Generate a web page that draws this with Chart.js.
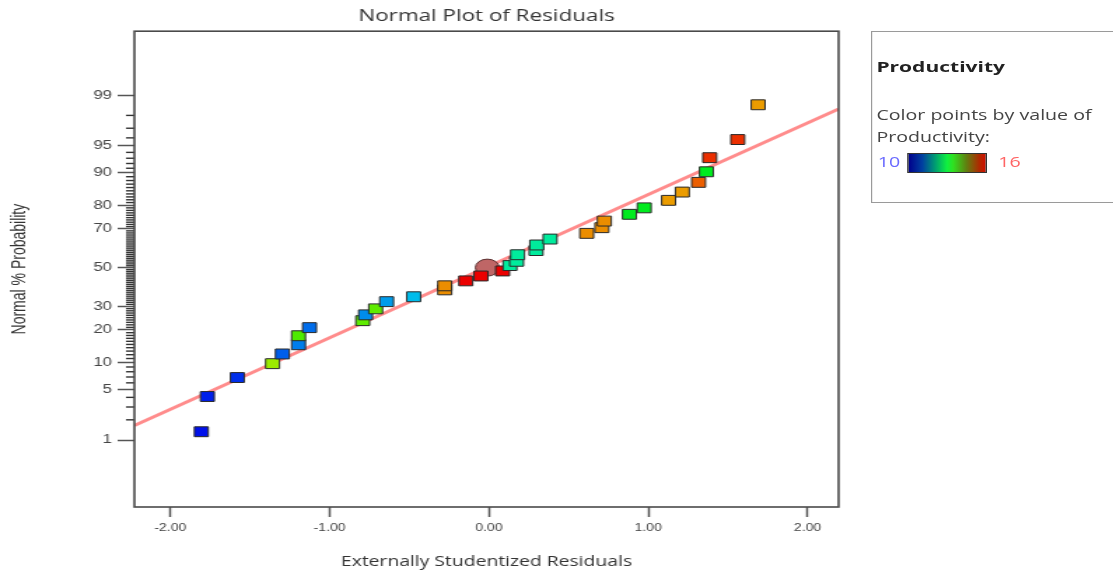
<!DOCTYPE html>
<html>
<head>
	<meta charset="utf-8">
	<title>Normal Plot of Residuals</title>
	<script src="https://cdn.jsdelivr.net/npm/chart.js@4.4.1/dist/chart.umd.min.js"></script>
	<style>
		html, body { margin: 0; padding: 0; background: #fff; overflow: hidden; }
		/* the original picture is stretched sideways, so the whole page is drawn narrow and scaled */
		#stage { position: absolute; left: 0; top: 0; width: 795px; height: 575px; transform: scaleX(1.4); transform-origin: 0 0; }
		#mychart { position: absolute; left: 0; top: 0; width: 795px; height: 575px; }
		#legend { position: absolute; left: 622px; top: 31px; width: 230px; height: 170px; border: 1px solid #9a9a9a; font-family: 'Open Sans', sans-serif; color: #444; }
		#legend div { position: absolute; white-space: nowrap; line-height: 20px; }
		#lgTitle { left: 3px; top: 24px; font-size: 15px; font-weight: bold; color: #222; }
		#lgLine1 { left: 3px; top: 73px; font-size: 14px; }
		#lgLine2 { left: 3px; top: 95px; font-size: 14px; }
		#lgLow { left: 4px; top: 120px; font-size: 14px; color: #6a6aff; }
		#lgHigh { left: 90px; top: 120px; font-size: 14px; color: #ff6464; }
		#lgBar { left: 25px; top: 121px; width: 55px; height: 18px; border: 1px solid #333;
			background: linear-gradient(to right, #00008c 0%, #0040a0 18%, #00a070 35%, #10f040 50%, #30e020 58%, #608010 75%, #b02800 92%, #d01000 100%); }
	</style>
</head>
<body>
<div id="stage">
	<canvas id="mychart" width="795" height="575"></canvas>
	<div id="legend">
		<div id="lgTitle">Productivity</div>
		<div id="lgLine1">Color points by value of</div>
		<div id="lgLine2">Productivity:</div>
		<div id="lgLow">10</div>
		<div id="lgBar"></div>
		<div id="lgHigh">16</div>
	</div>
</div>

<script type="text/javascript">

	// residual runs
	const residuals = [-1.805, -1.767, -1.579, -1.358, -1.296, -1.195, -1.195, -1.126, -0.792, -0.774,
		-0.711, -0.642, -0.472, -0.277, -0.277, -0.145, -0.050, 0.086, 0.132, 0.174,
		0.180, 0.296, 0.300, 0.384, 0.614, 0.709, 0.725, 0.882, 0.975, 1.128,
		1.214, 1.316, 1.365, 1.386, 1.562, 1.690];
	const normalPct = [1.34, 4.1, 6.9, 9.75, 12.2, 14.9, 17.9, 20.9, 23.7, 26.2,
		28.9, 32.3, 34.7, 38.2, 40.3, 42.9, 45.5, 48.2, 51.1, 53.4,
		56.9, 59.1, 62.0, 65.0, 67.8, 70.5, 73.5, 76.4, 79.0, 81.8,
		84.6, 87.5, 90.2, 93.1, 95.8, 98.6];
	// productivity of each run, guessed from the marker colour
	const productivity = [10.1, 10.2, 10.3, 14.0, 10.6, 10.8, 13.5, 10.7, 13.6, 10.9,
		13.6, 11.0, 11.2, 15.1, 15.1, 16.0, 16.0, 16.0, 12.0, 12.0,
		12.0, 12.0, 12.0, 12.0, 15.1, 15.1, 15.1, 12.8, 12.8, 15.0,
		15.0, 15.4, 12.8, 15.7, 15.7, 15.0];

	const centreResidual = [-0.01];
	const centrePct = [50];

	// fitted line, in residuals and normal scores
	const lineResidual = [-2.225, 2.195];
	const lineScore = [-2.13, 2.14];

	const xTicks = [-2, -1, 0, 1, 2];
	const yTickPct = [1, 5, 10, 20, 30, 50, 70, 80, 90, 95, 99];

	// inverse normal cdf (Acklam) - turns a probability into the scale position
	function probit(p) {
		const a = [-3.969683028665376e+01, 2.209460984245205e+02, -2.759285104469687e+02, 1.383577518672690e+02, -3.066479806614716e+01, 2.506628277459239e+00];
		const b = [-5.447609879822406e+01, 1.615858368580409e+02, -1.556989798598866e+02, 6.680131188771972e+01, -1.328068155288572e+01];
		const c = [-7.784894002430293e-03, -3.223964580411365e-01, -2.400758277161838e+00, -2.549732539343734e+00, 4.374664141464968e+00, 2.938163982698783e+00];
		const d = [7.784695709041462e-03, 3.224671290700398e-01, 2.445134137142996e+00, 3.754408661907416e+00];
		const pl = 0.02425;
		let q, r;
		if (p < pl) {
			q = Math.sqrt(-2 * Math.log(p));
			return (((((c[0]*q+c[1])*q+c[2])*q+c[3])*q+c[4])*q+c[5]) / ((((d[0]*q+d[1])*q+d[2])*q+d[3])*q+1);
		}
		if (p > 1 - pl) {
			q = Math.sqrt(-2 * Math.log(1 - p));
			return -(((((c[0]*q+c[1])*q+c[2])*q+c[3])*q+c[4])*q+c[5]) / ((((d[0]*q+d[1])*q+d[2])*q+d[3])*q+1);
		}
		q = p - 0.5; r = q * q;
		return (((((a[0]*r+a[1])*r+a[2])*r+a[3])*r+a[4])*r+a[5])*q / (((((b[0]*r+b[1])*r+b[2])*r+b[3])*r+b[4])*r+1);
	}

	function productivityColour(v) {
		const t = Math.min(1, Math.max(0, (v - 10) / 6));
		return 'hsl(' + Math.round(240 * (1 - t)) + ', 100%, 46%)';
	}

	// frame round the plot and the small unlabelled ticks on the probability axis
	const framePlugin = {
		id: 'frame',
		afterDraw(chart) {
			const ctx = chart.ctx;
			const area = chart.chartArea;
			const y = chart.scales.y;
			ctx.save();
			ctx.strokeStyle = '#333';
			ctx.lineWidth = 1.4;
			for (let p = 1; p < 100; p++) {
				if (yTickPct.includes(p)) continue;
				const py = y.getPixelForValue(probit(p / 100));
				ctx.beginPath();
				ctx.moveTo(area.left - 6, py);
				ctx.lineTo(area.left, py);
				ctx.stroke();
			}
			ctx.strokeStyle = '#4a4a4a';
			ctx.lineWidth = 1.6;
			ctx.strokeRect(area.left, area.top, area.right - area.left, area.bottom - area.top);
			ctx.restore();
		}
	};

	const ctx = document.getElementById('mychart').getContext('2d');

	const myChart = new Chart(ctx, {
		type: 'scatter',
		data: {
			datasets: [
				{
					label: 'Residuals',
					data: residuals.map((r, i) => ({ x: r, y: probit(normalPct[i] / 100) })),
					pointStyle: 'rect',
					pointRadius: 7,
					backgroundColor: productivity.map(productivityColour),
					borderColor: '#2a2a2a',
					borderWidth: 1,
					order: 1
				},
				{
					label: 'Centre',
					data: centreResidual.map((r, i) => ({ x: r, y: probit(centrePct[i] / 100) })),
					pointStyle: 'circle',
					pointRadius: 8.5,
					backgroundColor: '#bf6666',
					borderColor: '#5a3030',
					borderWidth: 1,
					order: 2
				},
				{
					type: 'line',
					label: 'Fit',
					data: lineResidual.map((r, i) => ({ x: r, y: lineScore[i] })),
					borderColor: 'rgba(255, 120, 120, 0.85)',
					borderWidth: 3,
					pointRadius: 0,
					fill: false,
					order: 3
				}
			]
		},
		options: {
			responsive: false,
			animation: false,
			layout: { padding: { left: 0, right: 196, top: 0, bottom: 0 } },
			plugins: {
				legend: { display: false },
				tooltip: { enabled: false },
				title: {
					display: true,
					text: 'Normal Plot of Residuals',
					fullSize: false,
					color: '#333',
					font: { family: 'Open Sans', size: 16, weight: 'normal' },
					padding: { top: 7, bottom: 5 }
				}
			},
			scales: {
				x: {
					type: 'linear',
					min: -2.225,
					max: 2.195,
					afterBuildTicks: s => { s.ticks = xTicks.map(v => ({ value: v })); },
					afterFit: s => { s.height = 68; },
					ticks: {
						callback: v => v.toFixed(2),
						font: { family: 'Liberation Sans', size: 10 },
						color: '#444',
						padding: 5,
						maxRotation: 0,
						autoSkip: false
					},
					grid: { drawOnChartArea: false, tickLength: 10, tickColor: '#555', tickWidth: 1.5 },
					border: { display: false },
					title: {
						display: true,
						text: 'Externally Studentized Residuals',
						color: '#333',
						font: { family: 'Open Sans', size: 13.8 },
						padding: { top: 0, bottom: 5 }
					}
				},
				y: {
					type: 'linear',
					min: -3.23,
					max: 3.19,
					afterBuildTicks: s => { s.ticks = yTickPct.map(p => ({ value: probit(p / 100) })); },
					afterFit: s => { s.width = 96; },
					ticks: {
						callback: (v, i) => String(yTickPct[i]),
						font: { family: 'Liberation Sans', size: 12 },
						color: '#444',
						padding: 4,
						autoSkip: false
					},
					grid: { drawOnChartArea: false, tickLength: 12, tickColor: '#555', tickWidth: 1.5 },
					border: { display: false },
					title: {
						display: true,
						text: 'Normal % Probability',
						color: '#333',
						font: { family: 'Liberation Sans', size: 14 },
						padding: { top: 6, bottom: 0 }
					}
				}
			}
		},
		plugins: [framePlugin]
	});

</script>
</body>
</html>
